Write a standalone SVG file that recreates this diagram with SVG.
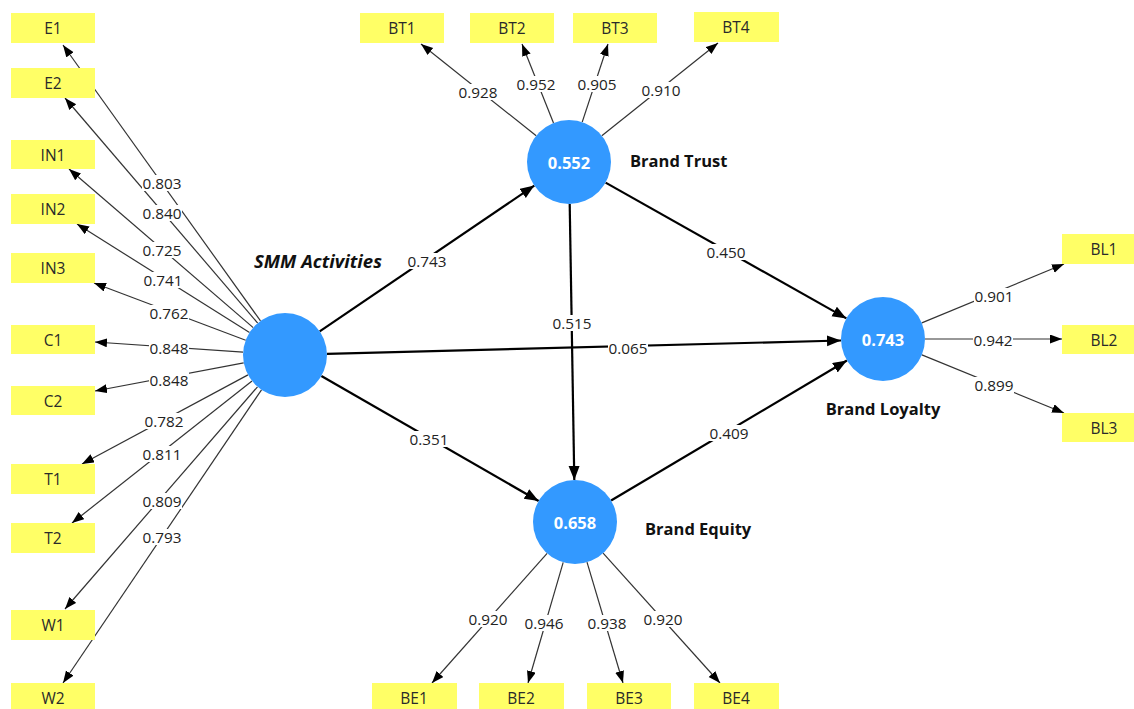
<svg xmlns="http://www.w3.org/2000/svg" width="1134" height="709" viewBox="0 0 1134 709">
<defs>
<style>
.box{fill:#ffff66}
.bt{font-family:"Open Sans","Noto Sans",sans-serif;font-size:15.5px;fill:#2a2a2a;text-anchor:middle;dominant-baseline:central}
.lv{fill:#3399ff}
.lvt{font-family:"Open Sans","Noto Sans",sans-serif;font-size:16.5px;font-weight:bold;fill:#ffffff;text-anchor:middle;dominant-baseline:central}
.name{font-family:"Open Sans","Noto Sans",sans-serif;font-size:16.5px;font-weight:bold;fill:#111;dominant-baseline:central}
.smm{font-size:18.5px;font-style:italic}
.ld{stroke:#333;stroke-width:1.2;fill:none;marker-end:url(#a1)}
.st{stroke:#000;stroke-width:2.2;fill:none;marker-end:url(#a2)}
.lb{fill:#fff}
.lt{font-family:"Open Sans","Noto Sans",sans-serif;font-size:15.3px;fill:#222;text-anchor:middle;dominant-baseline:central}
</style>
<marker id="a1" markerUnits="userSpaceOnUse" markerWidth="13" markerHeight="10" refX="12" refY="4.5" orient="auto"><path d="M0,0 L12,4.5 L0,9 z" fill="#000"/></marker>
<marker id="a2" markerUnits="userSpaceOnUse" markerWidth="15" markerHeight="12" refX="14" refY="5.5" orient="auto"><path d="M0,0 L14,5.5 L0,11 z" fill="#000"/></marker>
</defs>
<rect width="1134" height="709" fill="#fff"/>

<g id="connectors">
<line class="ld" x1="260.5" y1="320.9" x2="63" y2="45"/>
<line class="ld" x1="257.7" y1="323.1" x2="65" y2="98"/>
<line class="ld" x1="253.2" y1="327.6" x2="69" y2="169"/>
<line class="ld" x1="249.5" y1="332.6" x2="77" y2="224"/>
<line class="ld" x1="245.7" y1="340.2" x2="94" y2="283"/>
<line class="ld" x1="243.1" y1="352.1" x2="95" y2="342"/>
<line class="ld" x1="243.7" y1="362.8" x2="95" y2="391"/>
<line class="ld" x1="248" y1="374.9" x2="82" y2="464"/>
<line class="ld" x1="252" y1="381" x2="72" y2="523"/>
<line class="ld" x1="257.5" y1="386.8" x2="65" y2="609"/>
<line class="ld" x1="261.5" y1="389.8" x2="63" y2="683"/>

<line class="ld" x1="536.2" y1="135.8" x2="421" y2="44"/>
<line class="ld" x1="553.5" y1="123" x2="522" y2="44"/>
<line class="ld" x1="582.2" y1="122.1" x2="608" y2="44"/>
<line class="ld" x1="601.8" y1="135.8" x2="718" y2="43"/>

<line class="ld" x1="547.1" y1="553.4" x2="432" y2="683"/>
<line class="ld" x1="563.2" y1="562.3" x2="528" y2="683"/>
<line class="ld" x1="587" y1="562.2" x2="623" y2="683"/>
<line class="ld" x1="603.1" y1="553.2" x2="720" y2="683"/>

<line class="ld" x1="921.8" y1="322.9" x2="1064" y2="264"/>
<line class="ld" x1="925" y1="339" x2="1062" y2="339"/>
<line class="ld" x1="921.9" y1="354.9" x2="1064" y2="413"/>

<line class="st" x1="319.7" y1="331.4" x2="534.3" y2="185.6"/>
<line class="st" x1="327" y1="353.9" x2="841" y2="340.5"/>
<line class="st" x1="321.4" y1="376" x2="538.6" y2="501"/>
<line class="st" x1="569.7" y1="204" x2="574.3" y2="480"/>
<line class="st" x1="605.6" y1="182.6" x2="846.4" y2="318.4"/>
<line class="st" x1="611.1" y1="500.5" x2="846.9" y2="360.5"/>

<g id="labels">
<rect class="lb" x="142" y="175" width="40" height="16"/><text class="lt" x="162" y="183">0.803</text>
<rect class="lb" x="142" y="205" width="40" height="16"/><text class="lt" x="162" y="213">0.840</text>
<rect class="lb" x="142" y="242" width="40" height="16"/><text class="lt" x="162" y="250">0.725</text>
<rect class="lb" x="143" y="272" width="40" height="16"/><text class="lt" x="163" y="280">0.741</text>
<rect class="lb" x="149" y="305" width="40" height="16"/><text class="lt" x="169" y="313">0.762</text>
<rect class="lb" x="149" y="340" width="40" height="16"/><text class="lt" x="169" y="348">0.848</text>
<rect class="lb" x="149" y="372" width="40" height="16"/><text class="lt" x="169" y="380">0.848</text>
<rect class="lb" x="144" y="413" width="40" height="16"/><text class="lt" x="164" y="421">0.782</text>
<rect class="lb" x="142" y="446" width="40" height="16"/><text class="lt" x="162" y="454">0.811</text>
<rect class="lb" x="142" y="493" width="40" height="16"/><text class="lt" x="162" y="501">0.809</text>
<rect class="lb" x="142" y="529" width="40" height="16"/><text class="lt" x="162" y="537">0.793</text>

<rect class="lb" x="458" y="84" width="40" height="16"/><text class="lt" x="478" y="92">0.928</text>
<rect class="lb" x="516" y="76" width="40" height="16"/><text class="lt" x="536" y="84">0.952</text>
<rect class="lb" x="577" y="76" width="40" height="16"/><text class="lt" x="597" y="84">0.905</text>
<rect class="lb" x="641" y="82" width="40" height="16"/><text class="lt" x="661" y="90">0.910</text>

<rect class="lb" x="468" y="611" width="40" height="16"/><text class="lt" x="488" y="619">0.920</text>
<rect class="lb" x="524" y="615" width="40" height="16"/><text class="lt" x="544" y="623">0.946</text>
<rect class="lb" x="587" y="615" width="40" height="16"/><text class="lt" x="607" y="623">0.938</text>
<rect class="lb" x="643" y="611" width="40" height="16"/><text class="lt" x="663" y="619">0.920</text>

<rect class="lb" x="974" y="288" width="40" height="16"/><text class="lt" x="994" y="296">0.901</text>
<rect class="lb" x="973" y="332" width="40" height="16"/><text class="lt" x="993" y="340">0.942</text>
<rect class="lb" x="974" y="377" width="40" height="16"/><text class="lt" x="994" y="385">0.899</text>

<rect class="lb" x="407" y="253" width="40" height="16"/><text class="lt" x="427" y="261">0.743</text>
<rect class="lb" x="608" y="340" width="40" height="16"/><text class="lt" x="628" y="348">0.065</text>
<rect class="lb" x="409" y="431" width="40" height="16"/><text class="lt" x="429" y="439">0.351</text>
<rect class="lb" x="552" y="315" width="40" height="16"/><text class="lt" x="572" y="323">0.515</text>
<rect class="lb" x="706" y="244" width="40" height="16"/><text class="lt" x="726" y="252">0.450</text>
<rect class="lb" x="709" y="425" width="40" height="16"/><text class="lt" x="729" y="433">0.409</text>
</g>
</g>

<g id="E1"><rect class="box" x="11" y="13" width="84" height="30"/><text class="bt" x="53" y="28">E1</text></g>
<g id="E2"><rect class="box" x="11" y="68" width="84" height="30"/><text class="bt" x="53" y="83">E2</text></g>
<g id="IN1"><rect class="box" x="11" y="140" width="84" height="29"/><text class="bt" x="53" y="155">IN1</text></g>
<g id="IN2"><rect class="box" x="11" y="194" width="84" height="30"/><text class="bt" x="53" y="209">IN2</text></g>
<g id="IN3"><rect class="box" x="11" y="253" width="84" height="30"/><text class="bt" x="53" y="268">IN3</text></g>
<g id="C1"><rect class="box" x="11" y="325" width="84" height="29"/><text class="bt" x="53" y="340">C1</text></g>
<g id="C2"><rect class="box" x="11" y="386" width="84" height="29"/><text class="bt" x="53" y="401">C2</text></g>
<g id="T1"><rect class="box" x="11" y="464" width="84" height="30"/><text class="bt" x="53" y="479">T1</text></g>
<g id="T2"><rect class="box" x="11" y="523" width="84" height="30"/><text class="bt" x="53" y="538">T2</text></g>
<g id="W1"><rect class="box" x="11" y="610" width="84" height="30"/><text class="bt" x="53" y="625">W1</text></g>
<g id="W2"><rect class="box" x="11" y="683" width="84" height="30"/><text class="bt" x="53" y="698">W2</text></g>

<g id="BT1"><rect class="box" x="360" y="13" width="84" height="30"/><text class="bt" x="402" y="28">BT1</text></g>
<g id="BT2"><rect class="box" x="470" y="13" width="84" height="30"/><text class="bt" x="512" y="28">BT2</text></g>
<g id="BT3"><rect class="box" x="573" y="13" width="84" height="30"/><text class="bt" x="615" y="28">BT3</text></g>
<g id="BT4"><rect class="box" x="694" y="12" width="85" height="30"/><text class="bt" x="736" y="27">BT4</text></g>

<g id="BE1"><rect class="box" x="372" y="683" width="85" height="30"/><text class="bt" x="414" y="698">BE1</text></g>
<g id="BE2"><rect class="box" x="479" y="683" width="85" height="30"/><text class="bt" x="521" y="698">BE2</text></g>
<g id="BE3"><rect class="box" x="587" y="683" width="84" height="30"/><text class="bt" x="629" y="698">BE3</text></g>
<g id="BE4"><rect class="box" x="694" y="683" width="85" height="30"/><text class="bt" x="736" y="698">BE4</text></g>

<g id="BL1"><rect class="box" x="1062" y="234" width="84" height="30"/><text class="bt" x="1104" y="249">BL1</text></g>
<g id="BL2"><rect class="box" x="1062" y="325" width="84" height="29"/><text class="bt" x="1104" y="340">BL2</text></g>
<g id="BL3"><rect class="box" x="1062" y="413" width="84" height="29"/><text class="bt" x="1104" y="428">BL3</text></g>

<g id="SMM"><circle class="lv" cx="285" cy="355" r="42"/><text class="name smm" x="254" y="260">SMM Activities</text></g>
<g id="BrandTrust"><circle class="lv" cx="569" cy="162" r="42"/><text class="lvt" x="569" y="162">0.552</text><text class="name" x="630" y="160">Brand Trust</text></g>
<g id="BrandEquity"><circle class="lv" cx="575" cy="522" r="42"/><text class="lvt" x="575" y="522">0.658</text><text class="name" x="645" y="528">Brand Equity</text></g>
<g id="BrandLoyalty"><circle class="lv" cx="883" cy="339" r="42"/><text class="lvt" x="883" y="339">0.743</text><text class="name" x="883" y="408" text-anchor="middle">Brand Loyalty</text></g>
</svg>
